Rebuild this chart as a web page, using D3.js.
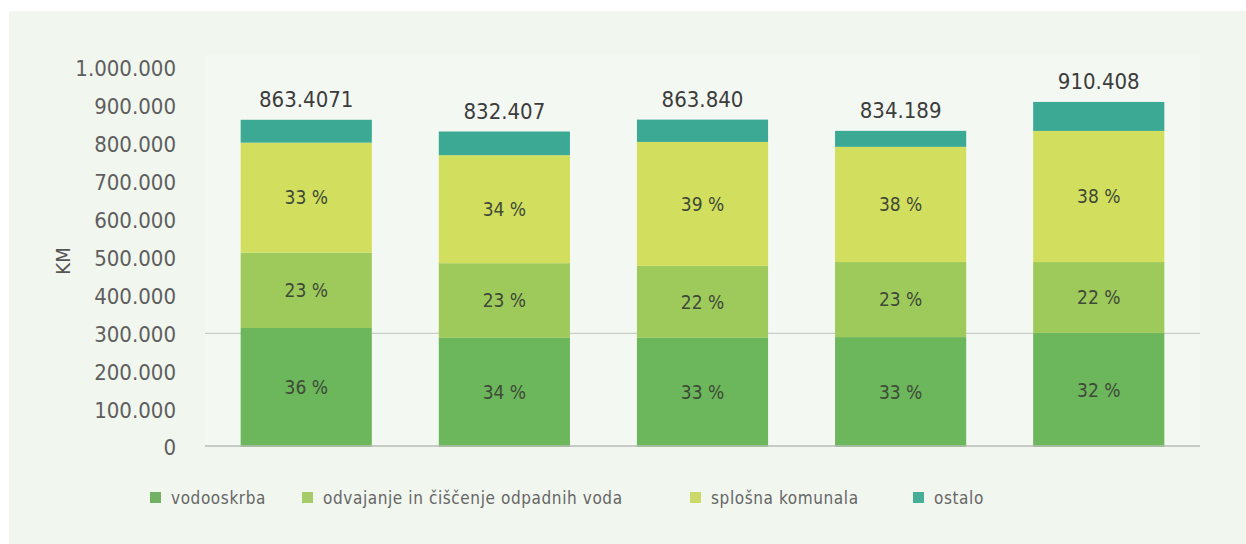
<!DOCTYPE html>
<html>
<head>
<meta charset="utf-8">
<script src="https://cdn.jsdelivr.net/npm/d3@7"></script>
<style>
  body { margin: 0; background: #ffffff; }
  svg text { font-family: "DejaVu Sans Condensed", "DejaVu Sans", sans-serif; font-stretch: condensed; }
</style>
</head>
<body>
<div class="graphics"></div>
<script>
// data
var years = ["a", "b", "c", "d", "e"];
var totals = [863407, 832407, 863840, 834189, 910408];
var totalLabels = ["863.4071", "832.407", "863.840", "834.189", "910.408"];
var seriesNames = ["vodooskrba", "odvajanje in čiščenje odpadnih voda", "splošna komunala", "ostalo"];
var vodooskrba = [314000, 288000, 288000, 290000, 301000];
var odvajanje = [199000, 197000, 190000, 198000, 187000];
var splosna = [290000, 285000, 327000, 304000, 346000];
var ostalo = [60407, 62407, 58840, 42189, 76408];
var pctVodo = ["36 %", "34 %", "33 %", "33 %", "32 %"];
var pctOdv = ["23 %", "23 %", "22 %", "23 %", "22 %"];
var pctSpl = ["33 %", "34 %", "39 %", "38 %", "38 %"];
var yTicks = [0, 100000, 200000, 300000, 400000, 500000, 600000, 700000, 800000, 900000, 1000000];
var colors = ["#6cb65c", "#9ec95b", "#d1de5e", "#3ca995"];
var legendColors = ["#70b163", "#a6cb69", "#cad96a", "#48ad97"];

var W = 1246, H = 544;
var svg = d3.select(".graphics").append("svg")
    .attr("width", W).attr("height", H);

// panel
svg.append("rect").attr("x", 9).attr("y", 11).attr("width", W - 9).attr("height", H - 11)
    .attr("fill", "#f1f6ef");
svg.append("rect").attr("x", 205).attr("y", 55).attr("width", 995).attr("height", 391)
    .attr("fill", "#f4f8f2");

var x = d3.scaleBand().domain(years).range([205, 1200]).paddingInner(0.338).paddingOuter(0.18);
var y = d3.scaleLinear().domain([0, 1000000]).range([447, 68]);

// y axis labels
var fmt = function(d) { return d === 0 ? "0" : d3.format(",")(d).replace(/,/g, "."); };
var yAxis = svg.append("g")
    .attr("transform", "translate(182,0)")
    .call(d3.axisLeft(y).tickValues(yTicks).tickFormat(fmt).tickSize(0).tickPadding(6));
yAxis.select(".domain").remove();
yAxis.selectAll("text")
    .attr("fill", "#5e5e5e")
    .style("font-size", "22px")
    .attr("dy", "0.36em");

// faint grid line at 300.000
svg.append("line")
    .attr("x1", 205).attr("x2", 1200)
    .attr("y1", y(300000)).attr("y2", y(300000))
    .attr("stroke", "#c9cdc6").attr("stroke-width", 1.2);

// stacked bars
var rows = years.map(function(k, i) {
    return { key: k, vodo: vodooskrba[i], odv: odvajanje[i], spl: splosna[i], ost: ostalo[i] };
});
var stack = d3.stack().keys(["vodo", "odv", "spl", "ost"]);
var layers = stack(rows);

svg.append("g").selectAll("g")
    .data(layers)
    .enter().append("g")
    .attr("fill", function(d, i) { return colors[i]; })
    .selectAll("rect")
    .data(function(d) { return d; })
    .enter().append("rect")
    .attr("x", function(d) { return x(d.data.key); })
    .attr("y", function(d) { return y(d[1]); })
    .attr("height", function(d) { return y(d[0]) - y(d[1]); })
    .attr("width", x.bandwidth());

// percentage labels
var pctSets = [pctVodo, pctOdv, pctSpl];
pctSets.forEach(function(labels, li) {
    svg.append("g").selectAll("text")
        .data(layers[li])
        .enter().append("text")
        .attr("x", function(d) { return x(d.data.key) + x.bandwidth() / 2; })
        .attr("y", function(d) { return (y(d[0]) + y(d[1])) / 2; })
        .attr("dy", "0.36em")
        .attr("text-anchor", "middle")
        .attr("fill", "#3f4a37")
        .style("font-size", "19px")
        .text(function(d, i) { return labels[i]; });
});

// totals above bars
svg.append("g").selectAll("text")
    .data(years)
    .enter().append("text")
    .attr("x", function(d) { return x(d) + x.bandwidth() / 2; })
    .attr("y", function(d, i) { return y(totals[i]) - 13; })
    .attr("text-anchor", "middle")
    .attr("fill", "#3c3c3c")
    .style("font-size", "22px")
    .text(function(d, i) { return totalLabels[i]; });

// baseline
svg.append("line")
    .attr("x1", 205).attr("x2", 1200)
    .attr("y1", 446).attr("y2", 446)
    .attr("stroke", "#b9bcb7").attr("stroke-width", 1.5);

// y axis title
svg.append("text")
    .attr("transform", "translate(70,261)rotate(-90)")
    .attr("text-anchor", "middle")
    .attr("fill", "#555")
    .style("font-size", "20px")
    .text("KM");

// legend
var legendX = [150, 302, 690, 913];
var legend = svg.append("g").selectAll("g")
    .data(seriesNames)
    .enter().append("g")
    .attr("transform", function(d, i) { return "translate(" + legendX[i] + ",498)"; });
legend.append("rect")
    .attr("x", 0).attr("y", -6).attr("width", 11).attr("height", 11)
    .attr("fill", function(d, i) { return legendColors[i]; });
legend.append("text")
    .attr("x", 21).attr("y", 0)
    .attr("dy", "0.36em")
    .attr("fill", "#666")
    .style("font-size", "17px")
    .style("letter-spacing", "0.6px")
    .text(function(d) { return d; });
</script>
</body>
</html>
